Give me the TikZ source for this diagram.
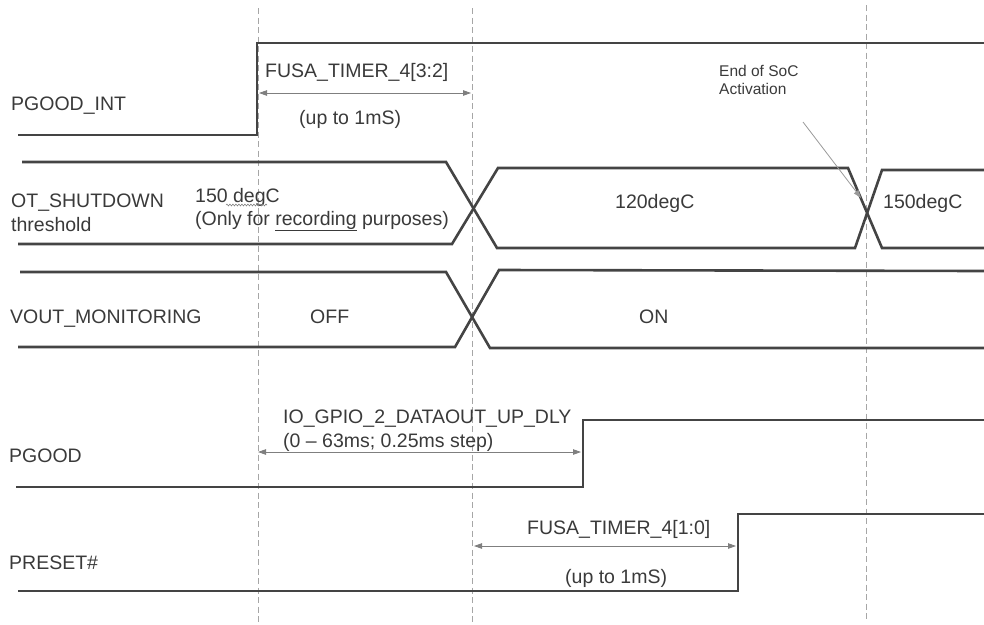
\documentclass[tikz,border=0pt]{standalone}
\usepackage{fontspec}
\setmainfont{Liberation Sans}
\usepackage{xcolor}
\usepackage{tikz}
\usetikzlibrary{arrows.meta, decorations.pathmorphing, calc}
\definecolor{sig}{HTML}{444444}
\definecolor{grid}{HTML}{A6A6A6}
\definecolor{dim}{HTML}{7F7F7F}
\definecolor{txt}{HTML}{3A3A3A}

\begin{document}
\begin{tikzpicture}[x=1pt,y=-1pt,
  wave/.style={draw=sig,line width=2.6pt,line join=miter},
  marker/.style={draw=grid,line width=0.9pt,dash pattern=on 6pt off 3.5pt},
  span/.style={draw=dim,line width=0.8pt,{Triangle[length=8pt,width=5.5pt]}-{Triangle[length=8pt,width=5.5pt]}},
  pointer/.style={draw=dim!80,line width=0.8pt,-{Triangle[length=8pt,width=5.5pt]}},
  lbl/.style={anchor=base west,inner sep=0pt,text=txt,font=\fontsize{19.5}{23}\selectfont},
  note/.style={lbl,font=\fontsize{15.5}{18}\selectfont}]
\useasboundingbox (0,0) rectangle (984,624);
% time markers
\draw[marker] (258,8) -- (258,622);
\draw[marker] (472,8) -- (472,622);
\draw[marker] (866,5) -- (866,622);
% signal names
\node[lbl] (pgoodint) at (11,110) {PGOOD\_INT};
\node[lbl] (otsd) at (11,207) {OT\_SHUTDOWN};
\node[lbl] (otsdthr) at (11,231) {threshold};
\node[lbl] (vout) at (10,323) {VOUT\_MONITORING};
\node[lbl] (pgood) at (9,462) {PGOOD};
\node[lbl] (preset) at (9,569) {PRESET\#};
% PGOOD_INT
\draw[wave] (18,135) -- (257,135) -- (257,43) -- (984,43);
\coordinate (tA) at (259,93);
\coordinate (tB) at (471,93);
\draw[span] (tA) -- (tB);
\node[lbl] (tmrhi) at (265,77) {FUSA\_TIMER\_4[3:2]};
\node[lbl] (uptohi) at (299,124) {(up to 1mS)};
% OT_SHUTDOWN threshold
\draw[wave] (22,162) -- (446,162) -- (497,248) -- (855,248) -- (882,170) -- (984,170);
\draw[wave] (18,244) -- (452,244) -- (498,168) -- (848,168) -- (882,248) -- (984,248);
\node[lbl] (t150a) at (195,202) {150 degC};
\draw[gray,line width=0.6pt,decorate,
  decoration={snake,amplitude=0.9pt,segment length=3pt}] (226,205) -- (267,205);
\node[lbl] (rec) at (195,225) {(Only for \underline{recording} purposes)};
\node[lbl] (t120) at (615,208) {120degC};
\node[lbl] (t150b) at (883,208) {150degC};
\node[note,align=left,anchor=base west] (soc) at (719,94) {End of SoC\\Activation};
\coordinate (socA) at (803,122);
\coordinate (socB) at (861,198);
\draw[pointer] (socA) -- (socB);
% VOUT_MONITORING
\draw[wave] (20,272) -- (446,272) -- (490,348) -- (984,348);
\draw[wave] (18,347) -- (455,347) -- (499,270) -- (984,271);
\node[lbl] (off) at (310,323) {OFF};
\node[lbl] (on) at (639,323) {ON};
% PGOOD
\draw[wave] (16,487) -- (583,487) -- (583,420) -- (984,420);
\coordinate (dA) at (258,452);
\coordinate (dB) at (581,452);
\draw[span] (dA) -- (dB);
\node[lbl] (dly) at (283,423) {IO\_GPIO\_2\_DATAOUT\_UP\_DLY};
\node[lbl] (dlyrng) at (283,447) {(0 -- 63ms; 0.25ms step)};
% PRESET#
\draw[wave] (18,591) -- (738,591) -- (738,514) -- (984,514);
\coordinate (pA) at (474,546);
\coordinate (pB) at (736,546);
\draw[span] (pA) -- (pB);
\node[lbl] (tmrlo) at (527,534) {FUSA\_TIMER\_4[1:0]};
\node[lbl] (uptolo) at (565,583) {(up to 1mS)};
\end{tikzpicture}
\end{document}
